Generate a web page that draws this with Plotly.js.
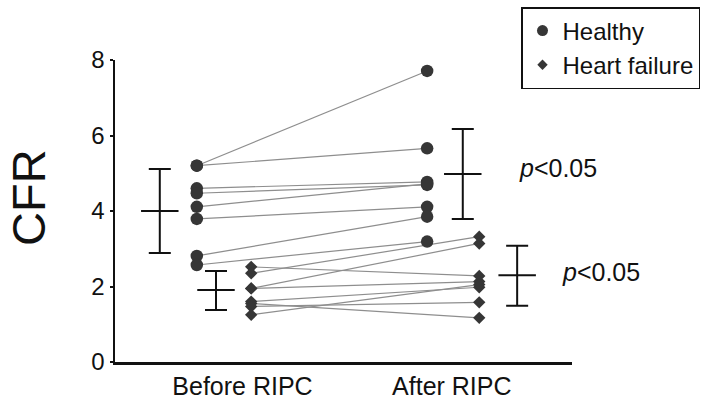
<!DOCTYPE html>
<html>
<head>
<meta charset="utf-8">
<script src="https://cdn.plot.ly/plotly-3.0.1.min.js"></script>
<style>html,body{margin:0;padding:0;background:#fff;}#chart{width:715px;height:401px;}</style>
</head>
<body>
<div id="chart"></div>
<script>
// ---- data ----
const groups = ['Before RIPC', 'After RIPC'];
const healthyBefore = [5.20, 5.20, 4.60, 4.47, 4.11, 3.79, 2.81, 2.57];
const healthyAfter  = [7.71, 5.66, 4.77, 4.69, 4.72, 4.11, 3.85, 3.19];
const hfBefore = [2.52, 2.35, 1.95, 1.95, 1.60, 1.55, 1.47, 1.25];
const hfAfter  = [2.28, 3.32, 3.14, 2.13, 1.98, 1.17, 1.58, 2.05];
const healthyMean  = [4.00, 4.98];
const healthyUpper = [5.11, 6.17];
const healthyLower = [2.89, 3.79];
const hfMean  = [1.91, 2.30];
const hfUpper = [2.41, 3.08];
const hfLower = [1.38, 1.49];
const yTicks = [0, 2, 4, 6, 8];
const yTitle = 'CFR';
const pTexts = ['<i>p</i>&lt;0.05', '<i>p</i>&lt;0.05'];
const seriesNames = ['Healthy', 'Heart failure'];

// ---- layout positions (x in axis units) ----
const groupTickX = [2.79, 7.37];
const healthyX = [1.79, 6.83];
const hfX = [2.98, 7.97];
const healthyErrX = [0.98, 7.61];
const hfErrX = [2.21, 8.80];
const meanHalf = 0.41;

const FONT = 'Liberation Sans, Arial, sans-serif';
const MARK = '#363636';
const LINEC = '#8e8e8e';

function pairLines(b, a, xb, xa) {
  const xs = [], ys = [];
  for (let i = 0; i < b.length; i++) {
    xs.push(xb, xa, null);
    ys.push(b[i], a[i], null);
  }
  return {x: xs, y: ys};
}
const hl = pairLines(healthyBefore, healthyAfter, healthyX[0], healthyX[1]);
const fl = pairLines(hfBefore, hfAfter, hfX[0], hfX[1]);

const traces = [
  {x: hl.x, y: hl.y, mode: 'lines', line: {color: LINEC, width: 1.2}, showlegend: false, hoverinfo: 'skip'},
  {x: fl.x, y: fl.y, mode: 'lines', line: {color: LINEC, width: 1.2}, showlegend: false, hoverinfo: 'skip'},
  {x: healthyBefore.map(() => healthyX[0]).concat(healthyAfter.map(() => healthyX[1])),
   y: healthyBefore.concat(healthyAfter), mode: 'markers',
   marker: {symbol: 'circle', size: 12.5, color: MARK}, showlegend: false},
  {x: hfBefore.map(() => hfX[0]).concat(hfAfter.map(() => hfX[1])),
   y: hfBefore.concat(hfAfter), mode: 'markers',
   marker: {symbol: 'diamond', size: 9.5, color: MARK}, showlegend: false},
  // mean ± spread
  {x: healthyErrX, y: healthyMean, mode: 'markers', marker: {opacity: 0, size: 1}, showlegend: false,
   error_y: {type: 'data', symmetric: false,
     array: healthyUpper.map((u, i) => u - healthyMean[i]),
     arrayminus: healthyLower.map((l, i) => healthyMean[i] - l),
     color: '#111', thickness: 2, width: 11},
   error_x: {type: 'constant', value: meanHalf, color: '#111', thickness: 2, width: 0}},
  {x: hfErrX, y: hfMean, mode: 'markers', marker: {opacity: 0, size: 1}, showlegend: false,
   error_y: {type: 'data', symmetric: false,
     array: hfUpper.map((u, i) => u - hfMean[i]),
     arrayminus: hfLower.map((l, i) => hfMean[i] - l),
     color: '#111', thickness: 2, width: 11},
   error_x: {type: 'constant', value: meanHalf, color: '#111', thickness: 2, width: 0}},
  // legend entries
  {x: [null], y: [null], mode: 'markers', name: seriesNames[0], legendgroup: 'g1',
   marker: {symbol: 'circle', size: 11, color: MARK}},
  {x: [null], y: [null], mode: 'markers', name: seriesNames[1], legendgroup: 'g2',
   marker: {symbol: 'diamond', size: 8, color: MARK}}
];

const layout = {
  width: 715, height: 401,
  margin: {l: 115, r: 143, t: 60, b: 39, autoexpand: false},
  paper_bgcolor: '#fff', plot_bgcolor: '#fff',
  font: {family: FONT, color: '#111', size: 22},
  showlegend: true,
  legend: {x: (521 - 115) / 457, xanchor: 'left', y: 1 + 53 / 302, yanchor: 'top',
    bordercolor: '#111', borderwidth: 1.5, bgcolor: '#fff',
    font: {family: FONT, size: 24, color: '#111'}, tracegroupgap: 0, itemwidth: 30},
  xaxis: {range: [0, 10], showgrid: false, zeroline: false, showline: true,
    linecolor: '#111', linewidth: 2.5, ticks: '', tickvals: groupTickX, ticktext: groups,
    tickfont: {family: FONT, size: 25, color: '#111'}, fixedrange: true},
  yaxis: {range: [0, 8], showgrid: false, zeroline: false, showline: true,
    linecolor: '#111', linewidth: 2.5, ticks: 'outside', ticklen: 3, tickwidth: 2, tickcolor: '#111',
    tickvals: yTicks, tickfont: {family: FONT, size: 24, color: '#111'},
    fixedrange: true},
  annotations: [
    {xref: 'paper', yref: 'paper', x: (28 - 115) / 457, y: (362 - 198) / 302, xanchor: 'center', yanchor: 'middle',
     text: yTitle, textangle: -90, showarrow: false, font: {family: FONT, size: 47, color: '#111'}},
    {xref: 'paper', yref: 'y', x: (517 - 115) / 457, y: 5.14, xanchor: 'left', yanchor: 'middle',
     text: pTexts[0], showarrow: false, font: {family: FONT, size: 25, color: '#111'}},
    {xref: 'paper', yref: 'y', x: (560 - 115) / 457, y: 2.39, xanchor: 'left', yanchor: 'middle',
     text: pTexts[1], showarrow: false, font: {family: FONT, size: 25, color: '#111'}}
  ]
};

Plotly.newPlot('chart', traces, layout, {displayModeBar: false, staticPlot: true});
</script>
</body>
</html>
